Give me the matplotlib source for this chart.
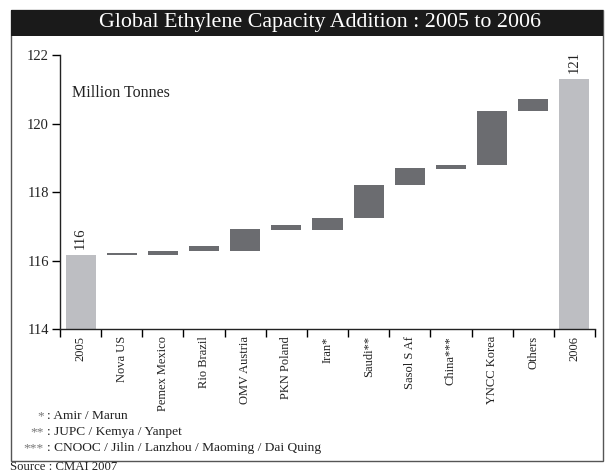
import matplotlib
matplotlib.use("Agg")
import matplotlib.pyplot as plt
from matplotlib.patches import Rectangle
import numpy as np

plt.rcParams['font.family'] = ['Liberation Serif', 'DejaVu Serif']

categories = ["2005", "Nova US", "Pemex Mexico", "Rio Brazil", "OMV Austria",
              "PKN Poland", "Iran*", "Saudi**", "Sasol S Af", "China***",
              "YNCC Korea", "Others", "2006"]
# totals (first and last) and the start/end level of each capacity addition
total_2005 = 116.17
total_2006 = 121.30
step_low = [116.17, 116.18, 116.29, 116.29, 116.90, 116.90, 117.25, 118.21, 118.68, 118.80, 120.37]
step_high = [116.22, 116.29, 116.43, 116.93, 117.04, 117.25, 118.21, 118.70, 118.79, 120.36, 120.71]
yticks = [114, 116, 118, 120, 122]
footnotes = [("*", "Amir / Marun"),
             ("**", "JUPC / Kemya / Yanpet"),
             ("***", "CNOOC / Jilin / Lanzhou / Maoming / Dai Quing")]

W, H = 609, 473
fig = plt.figure(figsize=(W / 100, H / 100), dpi=100)

def fx(px):
    return px / W

def fy(py):
    return 1 - py / H

# outer frame and black title band
fig.patches.append(Rectangle((fx(11), fy(461)), fx(603) - fx(11), fy(10) - fy(461),
                             transform=fig.transFigure, fill=False,
                             edgecolor="#555555", linewidth=1.0))
fig.patches.append(Rectangle((fx(11), fy(36)), fx(603) - fx(11), fy(10) - fy(36),
                             transform=fig.transFigure, facecolor="#1a1a1a",
                             edgecolor="none"))
fig.text(fx(320), fy(23), "Global Ethylene Capacity Addition : 2005 to 2006",
         color="white", fontsize=15.8, ha="center", va="center")

ax = fig.add_axes([fx(60), fy(329.3), fx(595) - fx(60), fy(55) - fy(329.3)])

dark = "#6b6c70"
light = "#bdbec2"
x = np.arange(len(categories))
bw = 0.73

ax.bar(x[0], total_2005, width=bw, bottom=0, color=light)
ax.bar(x[-1], total_2006, width=bw, bottom=0, color=light)
lows = np.array(step_low)
highs = np.array(step_high)
ax.bar(x[1:-1], highs - lows, width=bw, bottom=lows, color=dark)

for xi, v in [(x[0], total_2005), (x[-1], total_2006)]:
    ax.annotate(f"{v:.0f}", (xi, v), xytext=(0, 4), textcoords="offset points",
                rotation=90, ha="center", va="bottom", fontsize=10.5, color="#222222")

ax.text(0.022, 0.86, "Million Tonnes", transform=ax.transAxes, fontsize=11.5,
        ha="left", va="center", color="#222222")

ax.set_xlim(-0.5, len(categories) - 0.5)
ax.set_ylim(114, 122)
ax.set_yticks(yticks)
ax.set_yticklabels([str(t) for t in yticks], fontsize=10.5, color="#222222")
ax.tick_params(axis="y", direction="out", length=6, width=1.0, pad=2)

ax.set_xticks(x)
ax.set_xticklabels(categories, rotation=90, fontsize=9.0, color="#222222", va="top")
ax.tick_params(axis="x", which="major", length=0, pad=5)
ax.set_xticks(np.arange(-0.5, len(categories)), minor=True)
ax.tick_params(axis="x", which="minor", direction="out", length=6, width=1.0)

for side in ("top", "right"):
    ax.spines[side].set_visible(False)
for side in ("left", "bottom"):
    ax.spines[side].set_linewidth(1.0)
    ax.spines[side].set_color("#222222")

# footnotes with aligned colons
for i, (mark, text) in enumerate(footnotes):
    yy = fy(416 + i * 16)
    fig.text(fx(44), yy, mark, ha="right", va="center", fontsize=9.6, color="#777777")
    fig.text(fx(47), yy, ": " + text, ha="left", va="center", fontsize=9.6, color="#222222")

fig.text(fx(10), fy(466.5), "Source : CMAI 2007", ha="left", va="center",
         fontsize=9.2, color="#222222")

fig.savefig("out.png", dpi=100)
